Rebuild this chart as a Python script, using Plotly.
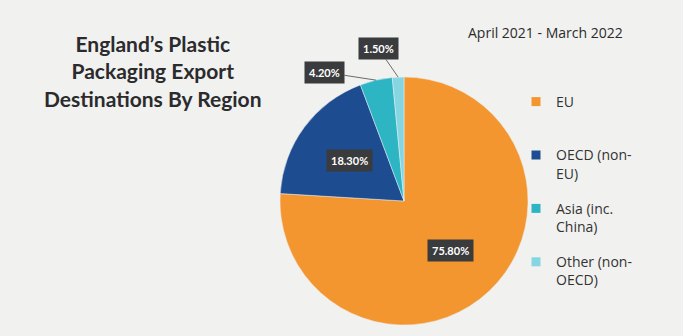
import math
import plotly.graph_objects as go

# ---- data ----
categories = ["EU", "OECD (non-<br>EU)", "Asia (inc.<br>China)", "Other (non-<br>OECD)"]
shares = [75.8, 18.3, 4.2, 1.5]
colors = ["#F4962F", "#1D4C91", "#2DB5C4", "#86D6E2"]
title_text = "England’s Plastic<br>Packaging Export<br>Destinations By Region"
subtitle_text = "April 2021 - March 2022"

W, H = 683, 336
# pie domain in pixels (left, right, top, bottom)
PL, PR, PT, PB = 278, 530, 77, 325

def px_x(x):
    return x / W

def px_y(y):
    return 1 - y / H

fig = go.Figure()
fig.add_trace(go.Pie(
    labels=[c.replace("<br>", "") for c in categories],
    values=shares,
    sort=False,
    direction="clockwise",
    rotation=0,
    textinfo="none",
    hoverinfo="label+percent",
    showlegend=False,
    marker=dict(colors=colors, line=dict(color="#E9EEF2", width=0.5)),
    domain=dict(x=[px_x(PL), px_x(PR)], y=[px_y(PB), px_y(PT)]),
))

# legend entries (one per category) so the vertical spacing can match
for i, (name, col) in enumerate(zip(categories, colors)):
    lbl = name if "<br>" in name else name + "<br> "
    fig.add_trace(go.Scatter(
        x=[None], y=[None], mode="markers", name=lbl,
        legendgroup=f"g{i}", hoverinfo="skip",
        marker=dict(symbol="square", size=9, color=col),
    ))

# label annotations computed from the data angles
cx, cy = (PL + PR) / 2, (PT + PB) / 2
R = min(PR - PL, PB - PT) / 2
total = sum(shares)
cum = 0
annots = []
outside = {2: (-52, -8), 3: (-20, -29)}
for i, v in enumerate(shares):
    mid = (cum + v / 2) / total * 2 * math.pi
    cum += v
    label = f"<b>{v:.2f}%</b>"
    common = dict(xref="paper", yref="paper", xanchor="center", yanchor="middle",
                  text=label, bgcolor="#3A3B3D", borderpad=4,
                  font=dict(family="Lato", size=11, color="white"))
    if i in outside:
        tx = cx + R * math.sin(mid)
        ty = cy - R * math.cos(mid)
        ax, ay = outside[i]
        annots.append(dict(x=px_x(tx), y=px_y(ty), showarrow=True, arrowhead=0,
                           arrowwidth=1, arrowcolor="#6b6b6b", ax=ax, ay=ay, **common))
    else:
        f = 0.55
        tx = cx + R * f * math.sin(mid)
        ty = cy - R * f * math.cos(mid)
        annots.append(dict(x=px_x(tx), y=px_y(ty), showarrow=False, **common))

annots.append(dict(
    x=px_x(153), y=px_y(71), xref="paper", yref="paper",
    xanchor="center", yanchor="middle",
    text=f"<b>{title_text}</b>", showarrow=False, align="center",
    font=dict(family="Lato", size=21, color="#2B2B2D"),
))
annots.append(dict(
    x=px_x(545), y=px_y(33), xref="paper", yref="paper",
    xanchor="center", yanchor="middle",
    text=subtitle_text, showarrow=False,
    font=dict(family="Open Sans", size=14, color="#2B2B2D"),
))

fig.update_layout(
    width=W, height=H,
    margin=dict(l=0, r=0, t=0, b=0),
    paper_bgcolor="#F1F1EF",
    plot_bgcolor="#F1F1EF",
    annotations=annots,
    showlegend=True,
    xaxis=dict(visible=False),
    yaxis=dict(visible=False),
    legend=dict(
        x=px_x(516), y=px_y(86), xanchor="left", yanchor="top",
        font=dict(family="Open Sans", size=14, color="#333333"),
        bgcolor="rgba(0,0,0,0)", valign="top",
        itemwidth=30, tracegroupgap=14,
    ),
)

fig.write_html("out.html")
